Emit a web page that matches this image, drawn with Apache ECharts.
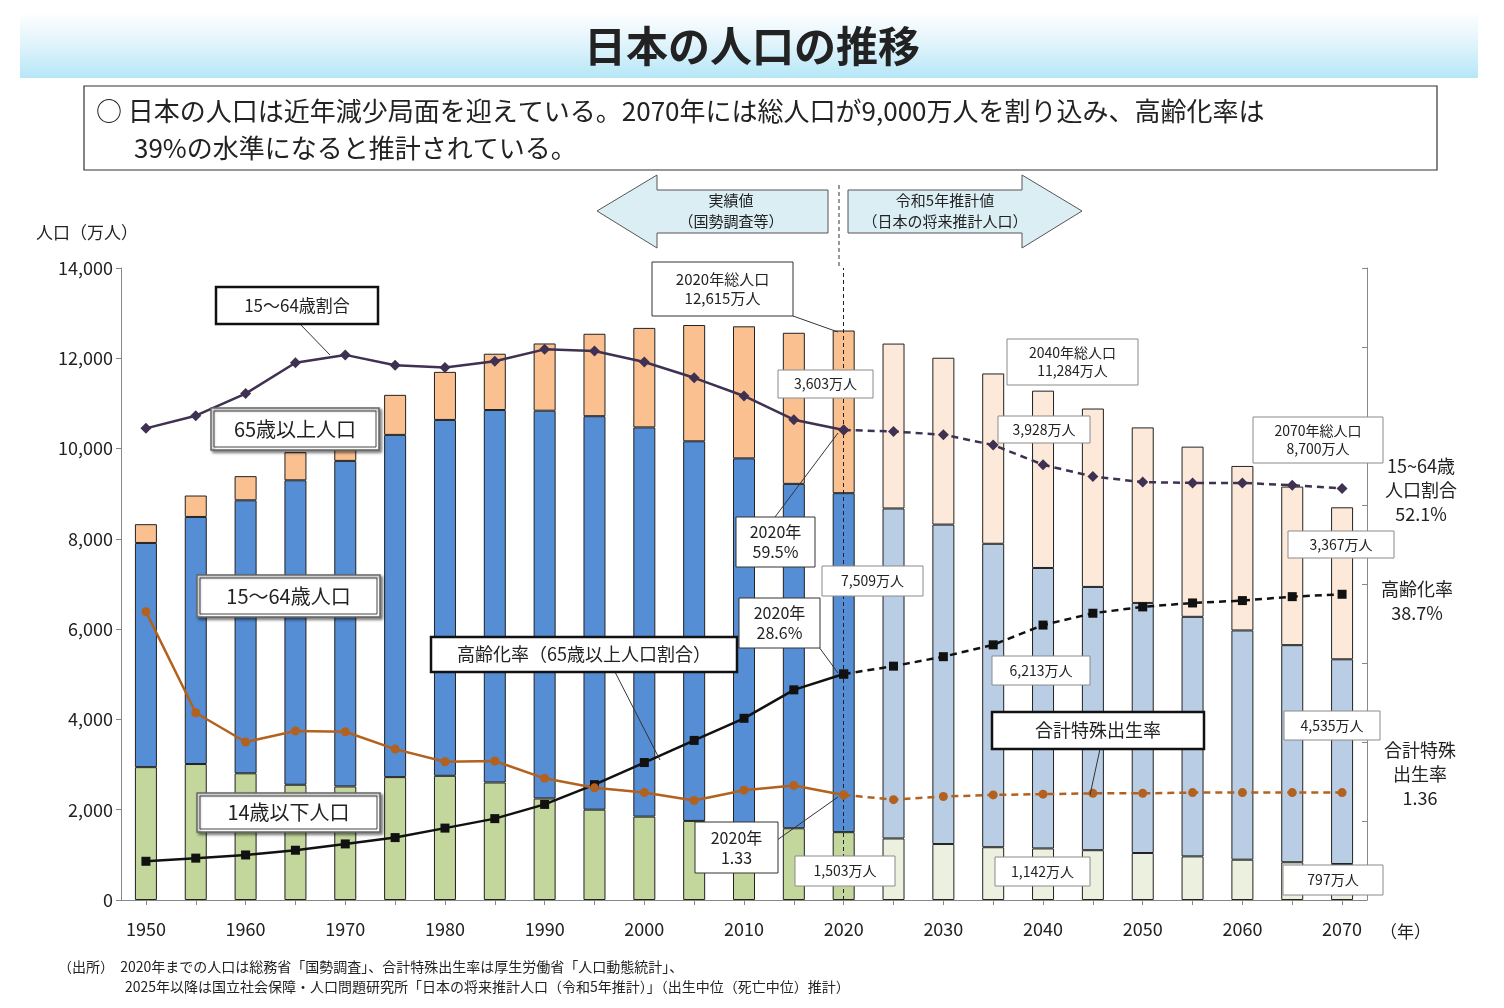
<!DOCTYPE html>
<html><head><meta charset="utf-8">
<script src="https://cdn.jsdelivr.net/npm/echarts@6/dist/echarts.min.js"></script>
<style>html,body{margin:0;padding:0;background:#fff}#c{width:1504px;height:1008px}</style>
</head><body><div id="c"></div>
<script>
const years = ['1950','1955','1960','1965','1970','1975','1980','1985','1990','1995','2000','2005','2010','2015','2020','2025','2030','2035','2040','2045','2050','2055','2060','2065','2070'];
const pop0_14 = [2943,3012,2807,2553,2515,2722,2751,2603,2249,2001,1847,1752,1680,1589,1503,1363,1240,1169,1142,1103,1041,966,893,836,797];
const pop15_64 = [4966,5473,6047,6744,7212,7581,7883,8251,8590,8716,8622,8409,8103,7629,7509,7310,7076,6722,6213,5832,5540,5307,5078,4809,4535];
const pop65 = [416,475,535,624,739,887,1065,1247,1489,1826,2204,2576,2925,3347,3603,3653,3696,3773,3928,3952,3888,3770,3644,3513,3367];
const ratio15_64 = [59.7,61.3,64.1,68.0,69.0,67.7,67.4,68.2,69.7,69.5,68.1,66.1,63.8,60.8,59.5,59.3,58.9,57.6,55.1,53.6,52.9,52.8,52.8,52.5,52.1];
const agingRate = [4.9,5.3,5.7,6.3,7.1,7.9,9.1,10.3,12.1,14.6,17.4,20.2,23.0,26.6,28.6,29.6,30.8,32.3,34.8,36.3,37.1,37.6,37.9,38.4,38.7];
const tfr = [3.65,2.37,2.00,2.14,2.13,1.91,1.75,1.76,1.54,1.42,1.36,1.26,1.39,1.45,1.33,1.27,1.31,1.33,1.34,1.35,1.35,1.36,1.36,1.36,1.36];

const SPLIT = 14; // index of 2020
const F = '"Noto Sans CJK JP","Noto Sans",sans-serif';
function barData(arr, dark, light){
  return arr.map((v,i)=>({value:v, itemStyle:{color: i>SPLIT?light:dark}}));
}
function solid(arr){return arr.map((v,i)=>i<=SPLIT?v:null);}
function dashed(arr){return arr.map((v,i)=>i>=SPLIT?v:null);}

const g = [];
function box(x1,y1,x2,y2,text,fs,opts){
  opts=opts||{};
  g.push({type:'rect',shape:{x:x1,y:y1,width:x2-x1,height:y2-y1},z:100,
    style:{fill:'#fff',stroke:opts.stroke||'#8a8a8a',lineWidth:opts.lw||1,shadowBlur:opts.shadow?3:0,shadowColor:'rgba(0,0,0,0.5)',shadowOffsetX:opts.shadow?2:0,shadowOffsetY:opts.shadow?2:0}});
  if(opts.inner){
    g.push({type:'rect',shape:{x:x1+3,y:y1+3,width:x2-x1-6,height:y2-y1-6},z:100,style:{fill:'none',stroke:'#444',lineWidth:1}});
  }
  g.push({type:'text',x:(x1+x2)/2,y:(y1+y2)/2,z:101,style:{text:text,font:(fs||15)+'px '+F,fill:'#222',align:'center',verticalAlign:'middle',lineHeight:(fs||15)+4}});
}
function line(x1,y1,x2,y2,opt){
  g.push({type:'line',shape:{x1,y1,x2,y2},z:99,style:{stroke:'#333',lineWidth:1,lineDash:opt&&opt.dash?[4,3]:null}});
}
function txt(x,y,t,fs,align,extra){
  g.push({type:'text',x,y,z:101,style:Object.assign({text:t,font:(fs||16)+'px '+F,fill:'#222',align:align||'left',verticalAlign:'middle',lineHeight:(fs||16)+6},extra||{})});
}
// title band
g.push({type:'rect',shape:{x:20,y:12,width:1458,height:66},z:1,style:{fill:new echarts.graphic.LinearGradient(0,0,0,1,[{offset:0,color:'#ffffff'},{offset:0.5,color:'#dff3fb'},{offset:1,color:'#b5e7f7'}])}});
txt(752,46,'日本の人口の推移',42,'center',{font:'bold 42px '+F});
// description box
g.push({type:'rect',shape:{x:84,y:86,width:1353,height:84},z:1,style:{fill:'#fff',stroke:'#333',lineWidth:1.2}});
txt(96,111,'○ 日本の人口は近年減少局面を迎えている。2070年には総人口が9,000万人を割り込み、高齢化率は',26);
txt(134,148,'39%の水準になると推計されている。',26);
// arrows
g.push({type:'polygon',shape:{points:[[597,211],[657,175],[657,190],[828,190],[828,233],[657,233],[657,248]]},z:5,style:{fill:'#dbeef4',stroke:'#555',lineWidth:1}});
g.push({type:'polygon',shape:{points:[[1082,211],[1022,175],[1022,190],[848,190],[848,233],[1022,233],[1022,248]]},z:5,style:{fill:'#dbeef4',stroke:'#555',lineWidth:1}});
txt(731,211,'実績値\n（国勢調査等）',15,'center');
txt(945,211,'令和5年推計値\n（日本の将来推計人口）',15,'center');
line(839,185,839,268,{dash:true});
// axis titles
txt(36,233,'人口（万人）',17);
txt(1380,932,'（年）',17);
txt(58,967,'（出所）  2020年までの人口は総務省「国勢調査」、合計特殊出生率は厚生労働省「人口動態統計」、',14);
txt(125,987,'2025年以降は国立社会保障・人口問題研究所「日本の将来推計人口（令和5年推計）」（出生中位（死亡中位）推計）',14);
// labels on chart
line(793,316,838,332); box(652,262,793,316,'2020年総人口\n12,615万人',15,{stroke:'#333'});
line(300,324,330,355); box(216,287,378,324,'15〜64歳割合',17,{stroke:'#111',lw:2.5});
box(211,408,379,450,'65歳以上人口',20,{stroke:'#666',lw:1.5,inner:true,shadow:true});
box(197,575,380,617,'15〜64歳人口',20,{stroke:'#666',lw:1.5,inner:true,shadow:true});
box(197,793,380,832,'14歳以下人口',20,{stroke:'#666',lw:1.5,inner:true,shadow:true});
line(615,672,660,760); box(431,637,737,672,'高齢化率（65歳以上人口割合）',18,{stroke:'#111',lw:2.5});
line(1100,749,1090,795); box(992,712,1204,749,'合計特殊出生率',18,{stroke:'#111',lw:2.5});
box(778,370,873,398,'3,603万人',14);
box(1007,339,1138,385,'2040年総人口\n11,284万人',14);
box(998,416,1090,443,'3,928万人',14);
box(1253,417,1383,463,'2070年総人口\n8,700万人',14);
box(1288,531,1394,558,'3,367万人',14);
line(775,517,838,433); box(736,517,815,567,'2020年\n59.5%',16,{stroke:'#333'});
box(822,566,923,596,'7,509万人',14);
line(805,628,838,673); box(739,598,820,648,'2020年\n28.6%',16,{stroke:'#333'});
box(992,656,1090,685,'6,213万人',14);
box(1284,711,1380,740,'4,535万人',14);
line(770,845,838,797); box(695,822,778,873,'2020年\n1.33',16,{stroke:'#333'});
box(795,856,895,886,'1,503万人',14);
box(995,857,1090,886,'1,142万人',14);
box(1283,865,1383,895,'797万人',14);
txt(1421,490,'15~64歳\n人口割合\n52.1%',18,'center');
txt(1417,601,'高齢化率\n38.7%',18,'center');
txt(1420,774,'合計特殊\n出生率\n1.36',18,'center');

const chart = echarts.init(document.getElementById('c'));
const barCommon = {type:'bar',stack:'pop',barWidth:22,yAxisIndex:0,z:2};
const bStyle = {borderColor:'#222',borderWidth:1};
chart.setOption({
  animation:false,
  grid:{left:121,right:137,top:268,bottom:108},
  xAxis:{type:'category',data:years,axisTick:{show:true,alignWithLabel:true,interval:0,lineStyle:{color:'#888'}},
    axisLine:{lineStyle:{color:'#888'}},
    axisLabel:{interval:1,color:'#222',fontSize:18,fontFamily:F,margin:20}},
  yAxis:[
    {type:'value',min:0,max:14000,interval:2000,splitLine:{show:false},axisLine:{show:true,lineStyle:{color:'#888'}},axisTick:{show:true,lineStyle:{color:'#888'}},
      axisLabel:{color:'#222',fontSize:18,fontFamily:F,formatter:v=>v.toLocaleString('en-US')}},
    {type:'value',min:0,max:80,interval:10,position:'right',splitLine:{show:false},axisLine:{show:true,lineStyle:{color:'#888'}},axisTick:{show:true,inside:true,lineStyle:{color:'#888'}},axisLabel:{show:false}},
    {type:'value',min:0,max:8,show:false}
  ],
  graphic:g,
  series:[
    Object.assign({},barCommon,{name:'14歳以下',data:barData(pop0_14,'#c3d69b','#ebf1de'),itemStyle:bStyle,
      markLine:{silent:true,symbol:'none',label:{show:false},lineStyle:{color:'#222',type:[4,3],width:1},data:[{xAxis:'2020'}]}}),
    Object.assign({},barCommon,{name:'15〜64歳',data:barData(pop15_64,'#558ed5','#b9cde5'),itemStyle:bStyle}),
    Object.assign({},barCommon,{name:'65歳以上',data:barData(pop65,'#fac090','#fde9d9'),itemStyle:bStyle}),
    {type:'line',yAxisIndex:1,data:solid(ratio15_64),symbol:'diamond',symbolSize:11,z:5,lineStyle:{color:'#3f3151',width:2.5},itemStyle:{color:'#3f3151'}},
    {type:'line',yAxisIndex:1,data:dashed(ratio15_64),symbol:'diamond',symbolSize:11,z:5,lineStyle:{color:'#3f3151',width:2.5,type:[7,5]},itemStyle:{color:'#3f3151'}},
    {type:'line',yAxisIndex:1,data:solid(agingRate),symbol:'rect',symbolSize:9,z:5,lineStyle:{color:'#111',width:2.5},itemStyle:{color:'#111'}},
    {type:'line',yAxisIndex:1,data:dashed(agingRate),symbol:'rect',symbolSize:9,z:5,lineStyle:{color:'#111',width:2.5,type:[7,5]},itemStyle:{color:'#111'}},
    {type:'line',yAxisIndex:2,data:solid(tfr),symbol:'circle',symbolSize:9,z:5,lineStyle:{color:'#b3611f',width:2.5},itemStyle:{color:'#b3611f'}},
    {type:'line',yAxisIndex:2,data:dashed(tfr),symbol:'circle',symbolSize:9,z:5,lineStyle:{color:'#b3611f',width:2.5,type:[7,5]},itemStyle:{color:'#b3611f'}}
  ]
});
</script></body></html>
